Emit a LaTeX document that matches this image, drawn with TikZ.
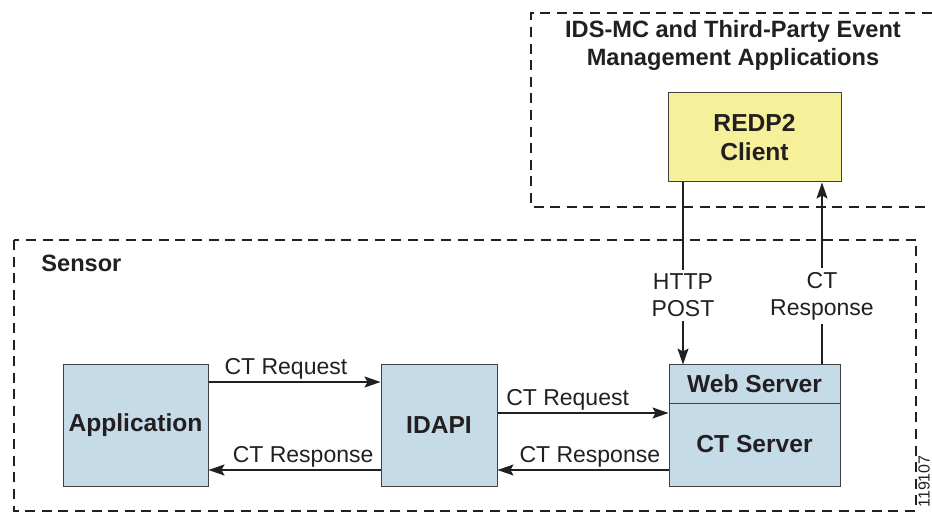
\documentclass[tikz,border=0pt]{standalone}
\usepackage{fontspec}
\setmainfont{Liberation Sans}
\usetikzlibrary{arrows.meta, positioning}

\definecolor{boxblue}{RGB}{197,219,232}
\definecolor{clientyel}{RGB}{245,240,153}
\definecolor{inkgray}{RGB}{35,31,32}

\begin{document}
\begin{tikzpicture}[
    x=0.5pt, y=-0.5pt,
    >={Stealth[length=8pt, width=5.5pt, inset=1.5pt]},
    arr/.style={->, line width=0.65pt, draw=inkgray},
    lbl/.style={font=\fontsize{11.5}{13.5}\selectfont, text=inkgray, inner sep=1pt},
    vlbl/.style={lbl, fill=white, align=center, inner sep=2pt},
    blk/.style={draw=black!75, line width=0.5pt, fill=boxblue, text=inkgray, font=\fontsize{12.3}{14.5}\selectfont\bfseries, inner sep=0pt, align=center},
    zone/.style={draw=inkgray, dash pattern=on 5pt off 3.3pt, line width=1.3pt},
    ttl/.style={font=\fontsize{11.8}{14}\selectfont\bfseries, text=inkgray, align=center},
]
\useasboundingbox (0,0) rectangle (932,513);
% === Event management side (top right) ===
\draw[zone] (932,13) -- (531,13) -- (531,207) -- (932,207);
\node[ttl] (mgmt) at (733,45) {IDS-MC and Third-Party Event\\Management Applications};
\node[blk, fill=clientyel, minimum width=86.5pt, minimum height=44.5pt] (client) at (754.5,137.5) {REDP2\\Client};
% === Sensor side ===
\draw[zone] (14,240) rectangle (916,511);
\node[ttl, anchor=west, inner sep=0pt] (sensor) at (41,263) {Sensor};
%
\node[blk, minimum width=72.5pt, minimum height=60.5pt] (app) at (135.5,425.5) {Application};
\node[blk, minimum width=58pt, minimum height=60.5pt] (idapi) at (439,425.5) {IDAPI};
\node[blk, minimum width=85.5pt, minimum height=19pt] (web) at (754.5,384) {Web Server};
\node[blk, minimum width=85.5pt, minimum height=41.5pt] (ctsrv) at (754.5,444.5) {CT Server};
% === Request / response arrows ===
\draw[arr] (app.east |- 0,382) -- node[lbl, above, pos=0.45] {CT Request} (idapi.west |- 0,382);
\draw[arr] (idapi.west |- 0,470) -- node[lbl, above, pos=0.45] {CT Response} (app.east |- 0,470);
\draw[arr] (idapi.east |- 0,413) -- node[lbl, above, pos=0.41] {CT Request} (ctsrv.west |- 0,413);
\draw[arr] (ctsrv.west |- 0,470) -- node[lbl, above, pos=0.46] {CT Response} (idapi.east |- 0,470);
% vertical links to the client
\draw[arr] (client.south -| 683,0) -- node[vlbl, pos=0.62] {HTTP\\POST} (web.north -| 683,0);
\draw[arr] (web.north -| 822,0) -- node[vlbl, pos=0.377] {CT\\Response} (client.south -| 822,0);
% figure number
\node[font=\fontsize{8}{9}\selectfont, text=inkgray, rotate=90, anchor=west, inner sep=0pt] (figno) at (924,508) {119107};
\end{tikzpicture}
\end{document}
